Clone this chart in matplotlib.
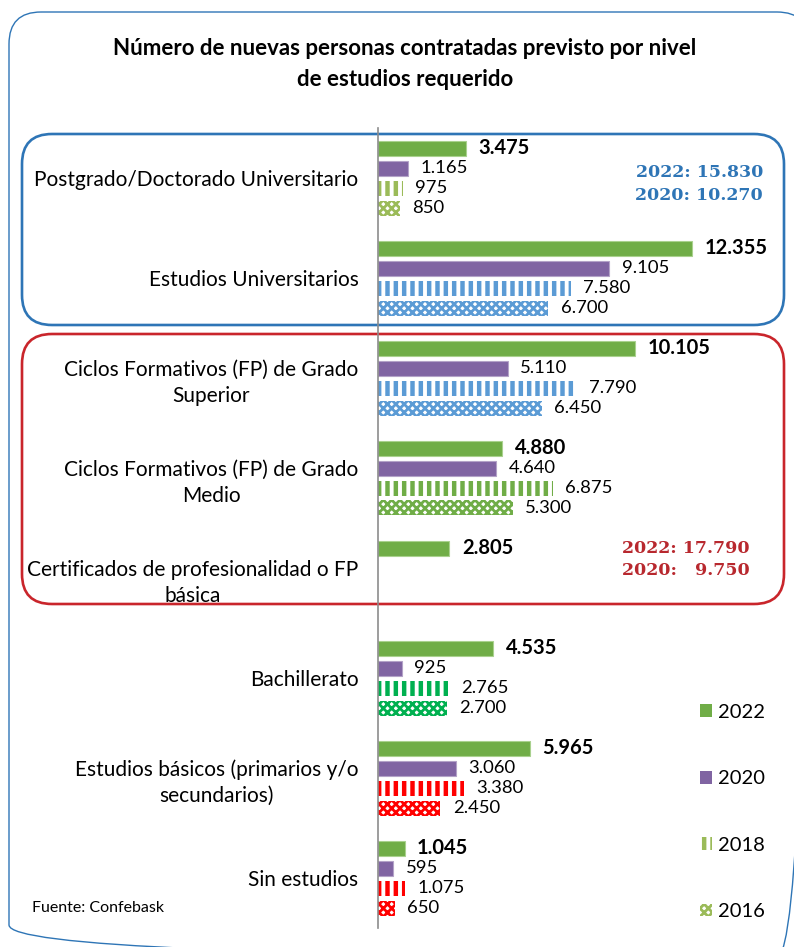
import numpy as np
import matplotlib
import matplotlib.pyplot as plt
from matplotlib.patches import FancyBboxPatch, Patch

# datos: nuevas contrataciones previstas por nivel de estudios
categorias = [
    "Postgrado/Doctorado Universitario",
    "Estudios Universitarios",
    "Ciclos Formativos (FP) de Grado\nSuperior",
    "Ciclos Formativos (FP) de Grado\nMedio",
    "Certificados de profesionalidad o FP\nbásica",
    "Bachillerato",
    "Estudios básicos (primarios y/o\nsecundarios)",
    "Sin estudios",
]
v2022 = [3475, 12355, 10105, 4880, 2805, 4535, 5965, 1045]
v2020 = [1165, 9105, 5110, 4640, np.nan, 925, 3060, 595]
v2018 = [975, 7580, 7790, 6875, np.nan, 2765, 3380, 1075]
v2016 = [850, 6700, 6450, 5300, np.nan, 2700, 2450, 650]
color_antiguo = ["#9BBB59", "#5B9BD5", "#5B9BD5", "#70AD47", "#9BBB59",
                 "#00B050", "#FF0000", "#FF0000"]
anios = ["2022", "2020", "2018", "2016"]
totales_univ = ["2022: 15.830", "2020: 10.270"]
totales_fp = ["2022: 17.790", "2020:   9.750"]

VERDE = "#70AD47"
MORADO = "#8064A2"
AZUL = "#2E75B6"
ROJO = "#C9252B"

plt.rcParams["font.family"] = ["Lato", "DejaVu Sans"]
plt.rcParams["hatch.linewidth"] = 3.2

W, H = 794, 947
fig = plt.figure(figsize=(W / 100, H / 100), dpi=100)


def caja(x0, y0, x1, y1):
    return [x0 / W, 1 - y1 / H, (x1 - x0) / W, (y1 - y0) / H]


# capa de fondo en pixeles para marcos redondeados y textos sueltos
bg = fig.add_axes([0, 0, 1, 1])
bg.set_xlim(0, W)
bg.set_ylim(H, 0)
bg.axis("off")

bg.add_patch(FancyBboxPatch((9, 12), 800, 945, boxstyle="round,pad=0,rounding_size=32",
                            fc="none", ec=AZUL, lw=1.0))
bg.add_patch(FancyBboxPatch((22, 134), 762, 191, boxstyle="round,pad=0,rounding_size=30",
                            fc="none", ec=AZUL, lw=1.9))
bg.add_patch(FancyBboxPatch((22, 334), 762, 270, boxstyle="round,pad=0,rounding_size=30",
                            fc="none", ec=ROJO, lw=1.9))

bg.text(405, 64, "Número de nuevas personas contratadas previsto por nivel\nde estudios requerido",
        ha="center", va="center", fontsize=16, fontweight="bold", linespacing=1.55)
bg.text(32, 908, "Fuente: Confebask", ha="left", va="center", fontsize=11.5)

for k, t in enumerate(totales_univ):
    bg.text(763, 172 + k * 23, t, ha="right", va="center", fontsize=12.5,
            fontweight="bold", color=AZUL, family="DejaVu Serif")
for k, t in enumerate(totales_fp):
    bg.text(750, 548 + k * 22, t, ha="right", va="center", fontsize=12.5,
            fontweight="bold", color="#B8282E", family="DejaVu Serif")

# grafico de barras
ax = fig.add_axes(caja(378, 128, 794, 928))
ax.patch.set_alpha(0)
escala = 0.02542  # px por unidad
ax.set_xlim(0, 416 / escala)
ax.set_ylim(7.5, -0.5)

y = np.arange(len(categorias))
h = 0.15
b22 = ax.barh(y - 0.3, v2022, height=h, color=VERDE, edgecolor="#A9D18E", lw=0.8)
b20 = ax.barh(y - 0.1, v2020, height=h, color=MORADO, edgecolor="#B3A2C7", lw=0.8)
b18 = ax.barh(y + 0.1, v2018, height=h, color="white", edgecolor=color_antiguo, hatch="||", lw=0)
b16 = ax.barh(y + 0.3, v2016, height=h, color="white", edgecolor=color_antiguo, hatch="xxxx", lw=0)
for p in b16:
    if hasattr(p, "set_hatch_linewidth"):
        p.set_hatch_linewidth(2.0)


def fmt(v):
    return f"{int(v):,}".replace(",", ".")


for serie, vals, negrita in [(b22, v2022, True), (b20, v2020, False),
                             (b18, v2018, False), (b16, v2016, False)]:
    for yy, v in zip(serie, vals):
        if np.isnan(v):
            continue
        ax.annotate(fmt(v), (v, yy.get_y() + h / 2), xytext=(9, 0), textcoords="offset points",
                    ha="left", va="center", fontsize=14.5 if negrita else 13.3,
                    fontweight="bold" if negrita else "normal")

ax.set_yticks(y)
ax.set_yticklabels(categorias, fontsize=15, multialignment="center", linespacing=1.35)
ax.tick_params(axis="y", length=0, pad=14)
ax.set_xticks([])
for s in ["top", "right", "bottom"]:
    ax.spines[s].set_visible(False)
ax.spines["left"].set_color("#8C8C8C")
ax.spines["left"].set_linewidth(1.2)

handles = [
    Patch(facecolor=VERDE, edgecolor="none"),
    Patch(facecolor=MORADO, edgecolor="none"),
    Patch(facecolor="white", edgecolor="#9BBB59", hatch="||", lw=0),
    Patch(facecolor="white", edgecolor="#9BBB59", hatch="xxxx", lw=0),
]
leg = bg.legend(handles, anios, loc="center left", bbox_to_anchor=(700, 812),
                bbox_transform=bg.transData, frameon=False, fontsize=14.5,
                borderaxespad=0, borderpad=0,
                handlelength=0.6, handleheight=0.6, handletextpad=0.3, labelspacing=2.45)
for p in leg.get_patches():
    if hasattr(p, "set_hatch_linewidth") and p.get_hatch() == "xxxx":
        p.set_hatch_linewidth(2.0)

fig.savefig("out.png", dpi=100)
